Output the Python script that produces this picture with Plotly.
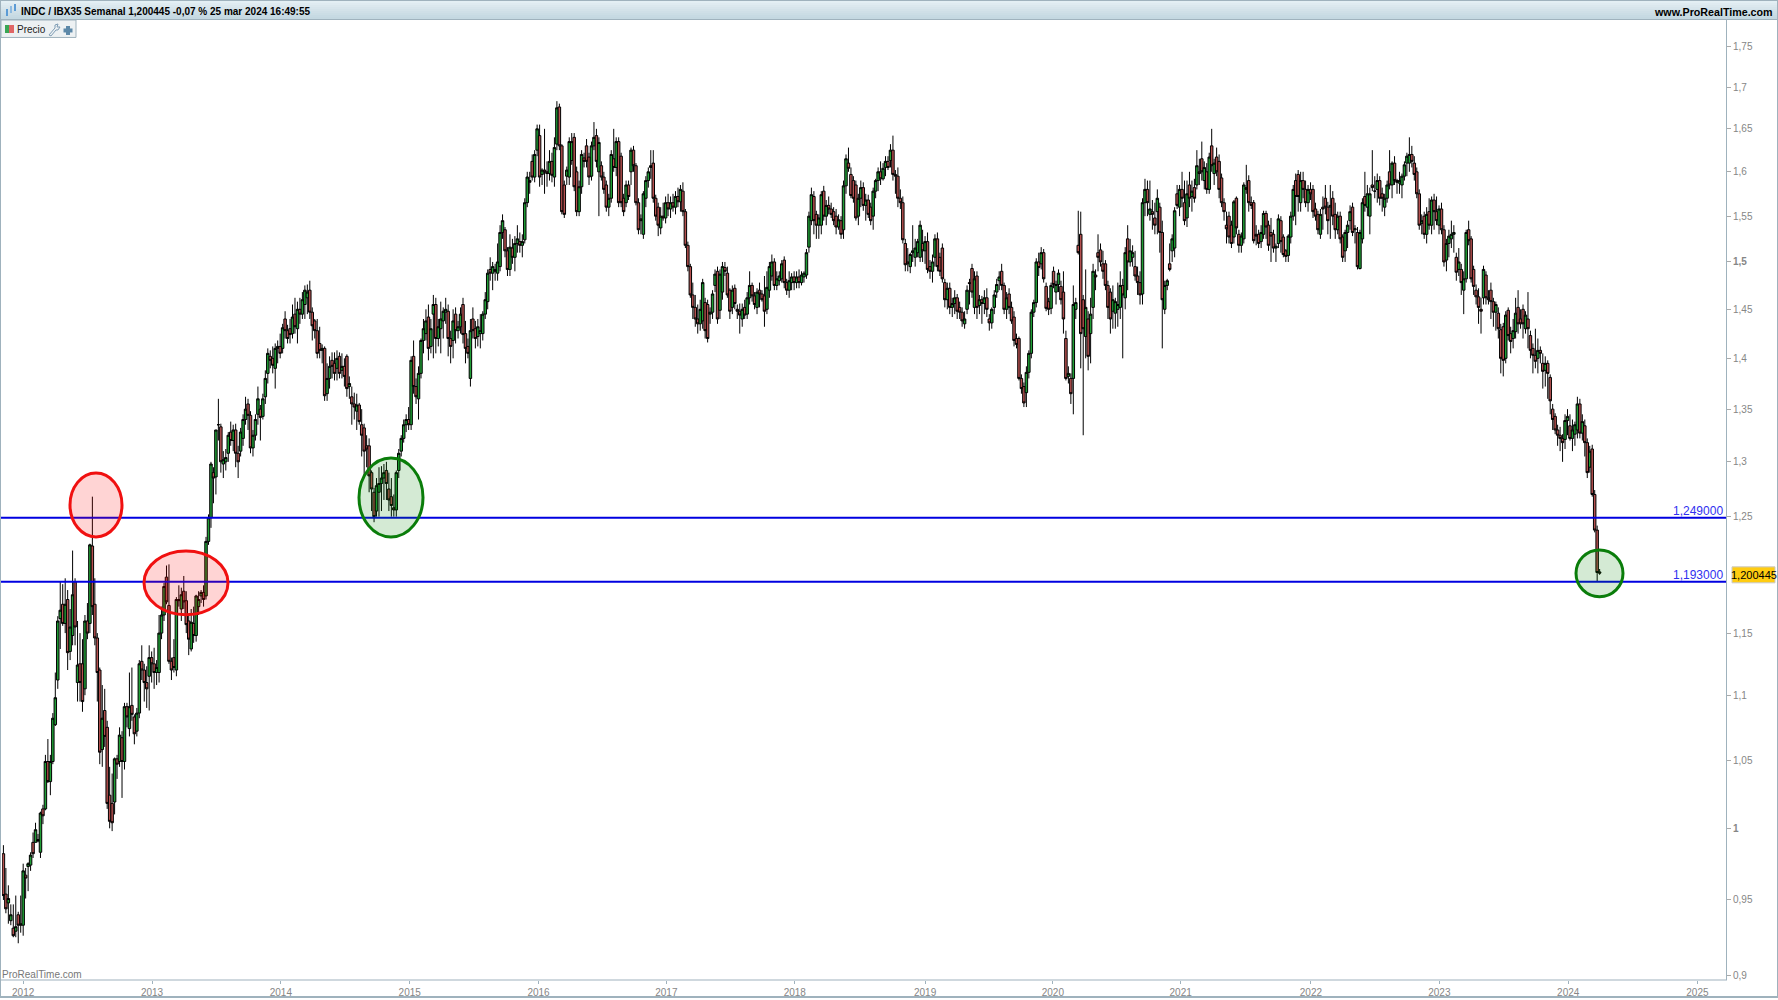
import pandas as pd
import plotly.graph_objects as go

# Weekly bars in thousandths: (open, high, low, close)
bars_2011 = [(982,988,950,953),(954,972,941,944),(948,960,934,951),(936,947,933,940),(931,947,925,926),(929,953,925,932),(940,942,921,933),(934,953,928,933)]
bars_2012 = [
(933,975,926,970),(967,972,951,965),(973,976,956,975),(974,983,970,981),(990,997,979,982),(990,1004,990,999),(992,996,990,991),(983,1012,979,1011),(1014,1017,1003,1009),(1014,1054,1013,1049),
(1049,1066,1033,1034),(1034,1054,1024,1049),(1049,1086,1047,1082),(1077,1118,1076,1098),(1112,1164,1105,1160),(1162,1193,1137,1169),(1174,1191,1156,1158),(1158,1196,1150,1174),(1178,1186,1120,1134),(1135,1170,1128,1155),
(1148,1220,1140,1182),(1193,1196,1140,1155),(1110,1160,1095,1124),(1125,1150,1095,1110),(1125,1145,1087,1095),(1105,1165,1100,1160),(1160,1175,1145,1150),(1158,1226,1150,1225),(1224,1268,1165,1172),(1174,1196,1140,1146),
(1146,1150,1095,1118),(1120,1122,1047,1056),(1058,1108,1045,1082),(1088,1105,1060,1068),(1075,1080,1014,1018),(1024,1045,1000,1005),(1018,1040,998,1004),(1019,1052,1010,1051),(1051,1054,1036,1047),(1049,1075,1045,1069),
(1067,1072,1022,1049),(1049,1094,1043,1091),(1091,1094,1075,1083),(1074,1118,1068,1091),(1092,1122,1080,1085),(1083,1085,1062,1070),(1072,1090,1068,1086),(1086,1128,1082,1125),(1127,1140,1112,1120),(1120,1125,1095,1110),
(1110,1123,1090,1105),(1115,1140,1088,1130),(1130,1135,1110,1125)]
bars_2013 = [
(1125,1138,1105,1118),(1118,1128,1108,1122),(1118,1165,1110,1150),(1150,1172,1145,1165),(1165,1192,1160,1189),(1197,1207,1174,1176),(1173,1208,1125,1127),(1127,1130,1112,1120),(1130,1145,1118,1122),(1120,1180,1115,1178),
(1178,1190,1172,1177),(1170,1188,1160,1182),(1185,1198,1170,1176),(1177,1185,1150,1157),(1160,1165,1132,1145),(1137,1170,1135,1159),(1158,1172,1142,1148),(1148,1182,1143,1181),(1172,1185,1165,1178),(1181,1186,1175,1184),
(1184,1190,1172,1178),(1181,1232,1178,1228),(1228,1252,1225,1249),(1249,1300,1240,1298),(1290,1295,1262,1285),(1286,1330,1270,1330),(1335,1360,1320,1335),(1333,1336,1290,1300),(1298,1310,1285,1302),(1300,1312,1292,1304),
(1308,1328,1300,1325),(1328,1338,1315,1320),(1320,1335,1310,1330),(1330,1336,1295,1308),(1308,1315,1285,1300),(1310,1332,1305,1328),(1322,1345,1315,1340),(1340,1362,1335,1350),(1355,1360,1330,1344),(1344,1348,1308,1313),
(1313,1330,1305,1325),(1325,1345,1320,1340),(1345,1372,1335,1360),(1350,1354,1320,1342),(1343,1365,1340,1360),(1362,1388,1355,1380),(1385,1410,1375,1405),(1402,1408,1390,1398),(1400,1412,1385,1393),(1390,1415,1370,1410),
(1410,1418,1395,1412),(1412,1425,1400,1405)]
bars_2014 = [
(1410,1435,1405,1431),(1440,1448,1420,1428),(1428,1434,1415,1420),(1430,1440,1415,1424),(1425,1455,1420,1442),(1445,1462,1425,1432),(1430,1458,1415,1450),(1450,1462,1435,1445),(1445,1468,1440,1460),(1455,1475,1440,1470),
(1462,1476,1445,1468),(1470,1480,1440,1447),(1447,1452,1418,1433),(1438,1440,1420,1428),(1428,1440,1400,1405),(1415,1432,1400,1408),(1408,1414,1395,1410),(1410,1412,1358,1363),(1365,1395,1358,1380),(1380,1402,1370,1392),
(1398,1406,1380,1392),(1395,1406,1378,1385),(1390,1408,1378,1400),(1402,1406,1380,1385),(1388,1405,1380,1392),(1392,1400,1372,1382),(1402,1404,1362,1370),(1372,1382,1360,1375),(1362,1372,1335,1355),(1355,1366,1340,1352),
(1348,1365,1330,1354),(1354,1356,1335,1338),(1335,1350,1305,1325),(1332,1336,1285,1310),(1315,1325,1295,1312),(1315,1322,1272,1287),(1290,1292,1255,1275),(1272,1276,1245,1250),(1255,1285,1250,1278),(1272,1295,1250,1280),
(1280,1296,1255,1285),(1285,1298,1265,1290),(1292,1300,1265,1280),(1275,1290,1255,1265),(1268,1285,1250,1260),(1258,1270,1250,1256),(1256,1292,1250,1290),(1292,1312,1285,1308),(1310,1325,1305,1322),(1322,1340,1318,1335),
(1335,1345,1328,1340),(1340,1352,1330,1335)]
bars_2015 = [
(1335,1402,1330,1398),(1402,1418,1365,1372),(1372,1380,1355,1362),(1360,1392,1340,1385),(1385,1420,1380,1418),(1418,1440,1405,1430),(1425,1450,1418,1438),(1442,1455,1398,1410),(1412,1440,1405,1430),(1445,1465,1400,1455),
(1455,1462,1405,1420),(1420,1440,1412,1432),(1430,1458,1405,1440),(1438,1452,1420,1448),(1447,1462,1435,1450),(1448,1455,1402,1420),(1420,1428,1395,1412),(1418,1450,1400,1438),(1445,1452,1415,1428),(1428,1438,1420,1432),
(1432,1452,1425,1445),(1455,1462,1415,1424),(1425,1438,1395,1410),(1412,1420,1400,1405),(1380,1440,1372,1428),(1440,1452,1420,1428),(1430,1438,1410,1420),(1422,1440,1412,1432),(1425,1445,1410,1428),(1425,1448,1418,1445),
(1445,1468,1440,1460),(1458,1492,1450,1488),(1492,1505,1480,1488),(1488,1500,1470,1495),(1492,1498,1480,1490),(1488,1520,1480,1500),(1495,1540,1490,1532),(1532,1552,1525,1545),(1535,1538,1505,1512),(1512,1516,1485,1492),
(1492,1530,1485,1516),(1515,1525,1498,1505),(1505,1528,1490,1520),(1520,1540,1510,1525),(1522,1532,1510,1518),(1518,1530,1505,1522),(1524,1570,1520,1565),(1565,1600,1560,1594),(1590,1600,1575,1588),(1612,1620,1590,1594),
(1594,1625,1588,1620),(1625,1655,1618,1650)]
bars_2016 = [
(1642,1655,1583,1594),(1597,1604,1585,1602),(1602,1650,1575,1600),(1600,1612,1583,1598),(1598,1625,1590,1612),(1612,1622,1588,1596),(1594,1640,1583,1628),(1632,1683,1625,1675),(1676,1680,1625,1630),(1630,1632,1552,1555),
(1585,1590,1548,1552),(1595,1606,1585,1602),(1594,1640,1585,1635),(1613,1645,1608,1635),(1640,1645,1578,1583),(1600,1606,1550,1555),(1555,1590,1550,1583),(1583,1625,1575,1620),(1616,1622,1605,1612),(1630,1638,1605,1612),
(1617,1622,1585,1594),(1595,1635,1590,1630),(1630,1658,1625,1640),(1642,1650,1605,1612),(1600,1640,1550,1634),(1607,1612,1590,1594),(1594,1600,1575,1580),(1585,1590,1555,1560),(1560,1575,1550,1570),(1570,1625,1565,1620),
(1615,1650,1600,1605),(1605,1640,1595,1635),(1635,1640,1560,1565),(1618,1622,1560,1565),(1570,1575,1550,1555),(1565,1590,1560,1585),(1585,1590,1568,1572),(1600,1628,1585,1625),(1625,1630,1600,1607),(1607,1610,1562,1565),
(1565,1570,1530,1535),(1547,1552,1530,1545),(1530,1578,1525,1575),(1570,1595,1560,1590),(1590,1605,1582,1600),(1605,1625,1592,1607),(1610,1625,1565,1570),(1570,1574,1545,1550),(1560,1565,1528,1540),(1537,1560,1530,1550),
(1550,1565,1545,1548),(1548,1572,1542,1565)]
bars_2017 = [
(1565,1575,1550,1558),(1558,1572,1548,1565),(1565,1575,1555,1560),(1560,1578,1552,1572),(1572,1582,1560,1566),(1566,1585,1555,1580),(1578,1588,1550,1555),(1555,1558,1515,1518),(1518,1522,1490,1495),(1495,1498,1462,1465),
(1465,1478,1440,1452),(1452,1465,1432,1440),(1440,1455,1425,1435),(1435,1460,1428,1450),(1438,1482,1430,1478),(1457,1462,1420,1428),(1455,1460,1416,1420),(1445,1452,1435,1447),(1447,1470,1440,1466),(1475,1492,1468,1487),
(1490,1495,1435,1440),(1449,1492,1440,1487),(1468,1500,1460,1495),(1494,1500,1485,1490),(1488,1495,1462,1465),(1470,1472,1440,1448),(1452,1475,1445,1470),(1472,1476,1450,1456),(1450,1455,1440,1448),(1448,1456,1425,1444),
(1440,1456,1432,1450),(1452,1460,1440,1444),(1445,1468,1440,1462),(1462,1490,1455,1475),(1475,1478,1458,1464),(1464,1468,1450,1455),(1452,1472,1445,1468),(1470,1478,1452,1466),(1466,1470,1458,1460),(1464,1485,1432,1448),
(1450,1490,1445,1473),(1470,1500,1462,1495),(1485,1508,1480,1500),(1500,1504,1470,1475),(1475,1490,1470,1482),(1480,1490,1475,1485),(1482,1502,1478,1498),(1502,1506,1472,1478),(1478,1482,1465,1470),(1470,1490,1462,1480),
(1478,1488,1470,1484),(1484,1490,1470,1478)]
bars_2018 = [
(1478,1490,1472,1484),(1484,1492,1472,1478),(1478,1490,1475,1486),(1484,1490,1478,1488),(1486,1514,1482,1510),(1516,1555,1510,1550),(1545,1582,1540,1574),(1572,1578,1530,1545),(1552,1556,1525,1540),(1540,1552,1525,1548),
(1540,1578,1530,1574),(1578,1584,1545,1550),(1550,1568,1540,1562),(1562,1572,1552,1558),(1558,1565,1548,1552),(1555,1560,1540,1545),(1550,1558,1530,1538),(1538,1552,1535,1546),(1545,1550,1525,1530),(1535,1590,1525,1584),
(1584,1620,1575,1615),(1610,1628,1600,1604),(1597,1605,1570,1573),(1590,1595,1565,1570),(1585,1590,1545,1548),(1550,1575,1540,1570),(1570,1590,1560,1582),(1582,1588,1556,1562),(1562,1575,1545,1568),(1568,1574,1548,1552),
(1560,1565,1540,1545),(1550,1582,1535,1578),(1578,1592,1570,1590),(1590,1605,1578,1600),(1600,1612,1585,1592),(1592,1610,1590,1604),(1605,1618,1595,1612),(1612,1618,1602,1605),(1613,1632,1605,1625),(1625,1642,1590,1597),
(1597,1602,1575,1595),(1595,1605,1560,1570),(1570,1580,1558,1565),(1565,1572,1520,1524),(1520,1525,1490,1497),(1500,1515,1490,1498),(1495,1510,1488,1508),(1510,1540,1500,1512),(1505,1525,1495,1515),(1510,1525,1505,1522),
(1505,1545,1500,1540),(1520,1535,1500,1512),(1512,1528,1498,1522)]
bars_2019 = [
(1522,1532,1488,1492),(1495,1502,1482,1490),(1490,1508,1478,1500),(1505,1530,1495,1525),(1525,1532,1490,1495),(1505,1510,1485,1490),(1515,1520,1478,1482),(1478,1482,1452,1460),(1460,1478,1450,1472),(1472,1478,1445,1452),
(1452,1462,1442,1456),(1456,1470,1445,1462),(1462,1466,1440,1448),(1452,1458,1440,1447),(1447,1452,1432,1438),(1435,1448,1430,1440),(1450,1475,1445,1470),(1478,1482,1455,1477),(1493,1498,1462,1468),(1452,1490,1445,1482),
(1485,1490,1440,1452),(1454,1465,1445,1460),(1460,1464,1435,1456),(1456,1470,1445,1462),(1462,1472,1442,1450),(1440,1445,1428,1436),(1436,1452,1430,1450),(1452,1470,1445,1465),(1468,1482,1462,1476),(1480,1490,1470,1484),
(1490,1498,1470,1475),(1475,1478,1445,1450),(1450,1468,1440,1462),(1466,1472,1445,1452),(1452,1458,1435,1438),(1442,1448,1412,1418),(1420,1425,1410,1414),(1420,1422,1378,1380),(1380,1384,1365,1370),(1372,1376,1352,1356),
(1366,1392,1352,1386),(1386,1408,1380,1405),(1405,1450,1400,1447),(1447,1460,1442,1457),(1457,1504,1452,1500),(1500,1510,1485,1494),(1498,1516,1492,1510),(1510,1514,1478,1482),(1474,1478,1448,1451),(1458,1462,1444,1450),
(1451,1478,1445,1475),(1490,1495,1472,1476)]
bars_2020 = [
(1468,1480,1455,1476),(1476,1492,1468,1488),(1474,1480,1455,1460),(1468,1490,1425,1440),(1420,1428,1378,1380),(1382,1392,1375,1385),(1380,1385,1355,1365),(1380,1475,1345,1455),(1450,1462,1440,1457),(1518,1556,1508,1510),
(1530,1555,1390,1425),(1460,1465,1325,1430),(1422,1492,1400,1452),(1440,1448,1388,1402),(1425,1462,1395,1445),(1452,1498,1440,1490),(1486,1492,1470,1484),(1510,1530,1490,1505),(1513,1520,1495,1500),(1498,1512,1482,1490),
(1498,1502,1470,1475),(1475,1480,1440,1452),(1468,1472,1425,1440),(1448,1475,1430,1460),(1446,1462,1430,1458),(1450,1478,1432,1455),(1452,1490,1440,1475),(1475,1482,1400,1465),(1462,1516,1450,1510),(1525,1540,1470,1500),
(1500,1525,1495,1512),(1505,1518,1495,1510),(1495,1512,1480,1485),(1485,1495,1465,1478),(1478,1490,1455,1465),(1466,1570,1455,1565),(1565,1592,1550,1580),(1580,1590,1550,1565),(1552,1590,1545,1558),(1555,1568,1535,1552),
(1548,1565,1530,1540),(1555,1580,1530,1570),(1560,1565,1510,1532),(1532,1545,1410,1460),(1450,1480,1445,1475),(1475,1482,1470,1480),(1498,1520,1490,1492),(1512,1530,1500,1525),(1515,1560,1505,1556),(1575,1585,1558,1562),
(1560,1585,1550,1580),(1580,1600,1560,1570)]
bars_2021 = [
(1565,1590,1540,1545),(1548,1590,1538,1575),(1585,1600,1560,1570),(1572,1590,1555,1578),(1582,1592,1565,1570),(1585,1625,1580,1607),(1600,1615,1585,1598),(1615,1635,1590,1600),(1590,1612,1580,1605),(1600,1610,1575,1580),
(1580,1622,1575,1617),(1630,1650,1600,1607),(1598,1615,1585,1610),(1617,1628,1595,1600),(1612,1620,1570,1580),(1593,1598,1560,1565),(1565,1570,1545,1555),(1540,1555,1520,1536),(1550,1555,1520,1527),(1540,1545,1515,1520),
(1527,1568,1520,1566),(1570,1572,1530,1537),(1530,1535,1510,1518),(1518,1532,1510,1528),(1525,1588,1520,1585),(1582,1608,1575,1580),(1590,1596,1555,1565),(1565,1572,1558,1562),(1565,1568,1520,1523),(1530,1540,1518,1528),
(1530,1535,1515,1520),(1522,1540,1515,1532),(1530,1556,1525,1553),(1553,1556,1525,1538),(1540,1545,1512,1518),(1532,1548,1500,1528),(1530,1535,1510,1515),(1515,1520,1500,1517),(1520,1552,1515,1547),(1545,1550,1510,1522),
(1527,1530,1505,1508),(1512,1514,1500,1506),(1507,1530,1500,1528),(1527,1555,1520,1550),(1550,1585,1545,1580),(1590,1598,1540,1572),(1597,1602,1555,1572),(1565,1600,1555,1590),(1590,1600,1570,1580),(1580,1590,1560,1565),
(1565,1585,1555,1580),(1580,1588,1568,1575)]
bars_2022 = [
(1580,1585,1548,1555),(1558,1565,1545,1550),(1552,1556,1530,1535),(1530,1558,1525,1552),(1560,1572,1535,1558),(1570,1585,1552,1560),(1560,1566,1530,1545),(1560,1585,1525,1562),(1570,1578,1540,1550),(1552,1565,1525,1535),
(1535,1555,1530,1550),(1550,1555,1520,1525),(1527,1530,1500,1505),(1512,1535,1500,1532),(1532,1545,1515,1540),(1545,1562,1535,1555),(1560,1565,1528,1532),(1535,1540,1520,1536),(1532,1538,1492,1495),(1493,1535,1492,1532),
(1525,1570,1520,1565),(1572,1600,1555,1562),(1560,1585,1550,1575),(1550,1582,1530,1575),(1585,1625,1578,1582),(1578,1595,1570,1578),(1580,1598,1565,1590),(1590,1595,1562,1570),(1575,1582,1555,1570),(1560,1575,1550,1570),
(1570,1590,1565,1585),(1600,1625,1580,1585),(1585,1612,1570,1610),(1610,1618,1585,1590),(1590,1592,1575,1588),(1587,1600,1575,1590),(1585,1598,1570,1595),(1595,1612,1590,1608),(1610,1622,1595,1618),(1610,1640,1600,1620),
(1620,1630,1605,1612),(1610,1618,1590,1597),(1600,1605,1570,1575),(1575,1580,1535,1540),(1542,1552,1530,1545),(1550,1555,1525,1530),(1530,1560,1520,1552),(1555,1570,1535,1540),(1540,1572,1530,1568),(1568,1575,1535,1555),
(1555,1572,1540,1545),(1540,1562,1530,1558)]
bars_2023 = [
(1558,1565,1530,1535),(1535,1540,1495,1500),(1502,1525,1490,1520),(1520,1535,1505,1528),(1525,1545,1515,1530),(1530,1540,1510,1532),(1505,1510,1480,1489),(1492,1515,1485,1500),(1492,1498,1465,1478),(1470,1490,1445,1482),
(1482,1535,1478,1532),(1535,1545,1518,1523),(1525,1528,1478,1482),(1492,1496,1465,1474),(1470,1476,1455,1463),(1463,1472,1435,1452),(1450,1462,1425,1448),(1462,1496,1455,1492),(1486,1490,1455,1462),(1462,1470,1455,1460),
(1470,1478,1440,1458),(1458,1462,1432,1447),(1447,1458,1428,1455),(1446,1452,1420,1430),(1429,1435,1385,1400),(1432,1436,1382,1398),(1400,1448,1395,1444),(1449,1452,1418,1423),(1425,1432,1405,1417),(1420,1440,1410,1428),
(1427,1462,1420,1446),(1452,1470,1425,1435),(1440,1450,1430,1435),(1450,1455,1420,1435),(1430,1448,1425,1444),(1440,1468,1410,1430),(1423,1428,1400,1408),(1410,1415,1385,1403),(1403,1430,1390,1397),(1400,1420,1385,1408),
(1408,1412,1395,1405),(1395,1405,1370,1387),(1388,1402,1372,1395),(1395,1398,1360,1385),(1381,1384,1345,1358),(1350,1355,1330,1340),(1343,1346,1326,1330),(1330,1335,1315,1325),(1325,1333,1310,1322),(1322,1326,1300,1318),
(1321,1345,1312,1339),(1339,1350,1325,1343)]
bars_2024 = [
(1334,1345,1320,1322),(1322,1340,1310,1330),(1326,1338,1315,1335),(1330,1362,1322,1355),(1355,1360,1322,1327),(1327,1345,1320,1338),(1334,1340,1305,1318),(1318,1322,1285,1290),(1295,1315,1290,1310),(1312,1316,1268,1270),
(1270,1274,1236,1238),(1238,1242,1193,1201),(1201.5,1204,1199,1200.445)]

year_labels = ["2012","2013","2014","2015","2016","2017","2018","2019","2020","2021","2022","2023","2024","2025"]
year_ticks = ["2012-01-02","2013-01-01","2014-01-01","2015-01-01","2016-01-01","2016-12-28","2017-12-27","2018-12-31","2019-12-28","2020-12-24","2021-12-28","2022-12-27","2023-12-27","2024-12-27"]
price_ticks = [0.9,0.95,1,1.05,1.1,1.15,1.25,1.3,1.35,1.4,1.45,1.5,1.55,1.6,1.65,1.7,1.75]
price_labels = ["0,9","0,95","<b>1</b>","1,05","1,1","1,15","1,25","1,3","1,35","1,4","1,45","<b>1,5</b>","1,55","1,6","1,65","1,7","1,75"]
levels = [1.249, 1.193]
level_labels = ["1,249000", "1,193000"]
last_price = "1,200445"
title_text = "INDC / IBX35 Semanal 1,200445 -0,07 % 25 mar 2024 16:49:55"

bars = (bars_2011+bars_2012+bars_2013+bars_2014+bars_2015+bars_2016+bars_2017+bars_2018
        +bars_2019+bars_2020+bars_2021+bars_2022+bars_2023+bars_2024)
opens, highs, lows, closes = [[b[i]/1000 for b in bars] for i in range(4)]
dates = pd.date_range(end="2024-03-25", periods=len(bars), freq="W-MON")

W, H = 1778, 1000
L, R, T, B = 2, 1726, 20, 982
FRAME = "#9fb2bd"
GREY = "#868686"
FONT = "Liberation Sans, Arial, sans-serif"
def px(x): return (x-L)/(R-L)
def py(y): return (B-y)/(B-T)

fig = go.Figure(go.Candlestick(
    x=dates, open=opens, high=highs, low=lows, close=closes,
    increasing=dict(fillcolor="#1f9e35", line=dict(color="#000000", width=1)),
    decreasing=dict(fillcolor="#b5504f", line=dict(color="#000000", width=1)),
    whiskerwidth=0, hoverinfo="skip", showlegend=False))

shapes, notes = [], []
def rect(x0,y0,x1,y1,fill,line=None,lw=1):
    shapes.append(dict(type="rect",xref="paper",yref="paper",x0=px(x0),x1=px(x1),y0=py(y0),y1=py(y1),
                       fillcolor=fill,line=dict(color=line or fill,width=lw if line else 0),layer="above"))
def text(x,y,s,size=11,color="#000",anchor="left",bold=False):
    notes.append(dict(xref="paper",yref="paper",x=px(x),y=py(y),text=f"<b>{s}</b>" if bold else s,showarrow=False,
                      xanchor=anchor,yanchor="middle",font=dict(size=size,color=color,family=FONT),borderpad=0,borderwidth=0))
def oval(x0,y0,x1,y1,fill,line):
    shapes.append(dict(type="circle",xref="paper",yref="paper",x0=px(x0),x1=px(x1),y0=py(y0),y1=py(y1),
                       fillcolor=fill,line=dict(color=line,width=3),layer="above"))

# horizontal levels
for lv in levels:
    shapes.append(dict(type="line",xref="paper",yref="y",x0=px(0),x1=1,y0=lv,y1=lv,
                       line=dict(color="#0000e0",width=2),layer="above"))
text(1723,512,level_labels[0],size=12,color="#3030f0",anchor="right")
text(1723,576,level_labels[1],size=12,color="#3030f0",anchor="right")

# highlight ovals
oval(70,474,122,538,"rgba(255,0,0,0.17)","#f01010")
oval(144,552,228,616,"rgba(255,0,0,0.17)","#f01010")
oval(359,459,423,538,"rgba(0,128,0,0.17)","#0a7d0a")
oval(1576,551,1623,598,"rgba(0,128,0,0.17)","#0a7d0a")

# window frame
header = ["#e3eff4","#dfebf1","#dbe8ee","#d7e5ec","#d3e2e9","#cfdfe7","#cbdde5","#c7dae3","#c4d8e1"]
for i,c in enumerate(header):
    rect(0,1+2*i,W,3+2*i,c)
rect(0,0,W,1,FRAME); rect(0,19,W,20,FRAME)
rect(0,0,1,H,FRAME); rect(W-1,0,W,H,FRAME); rect(0,H-2,W,H,FRAME)
rect(0,981.5,1727,982.5,FRAME); rect(1726,20,1727,982,FRAME)
# header icon
rect(6,9,8,16,"#5b9bd5"); rect(10,6,12,13,"#8fbbe0"); rect(14,4,16,11,"#5b9bd5")
text(21,11.5,title_text,size=10,bold=True)
text(1773,11.5,"www.ProRealTime.com",size=10.7,anchor="right",bold=True)
# legend tab
rect(1,20,76,37.5,"#edf1f3",FRAME)
rect(5,25,9,33,"#3aa655"); rect(9,25,14,33,"#e06666")
text(17,29.5,"Precio",size=10,color="#222")
shapes.append(dict(type="path",xref="paper",yref="paper",layer="above",line=dict(color="#7f9db5",width=1),
    path=f"M {px(49)} {py(35)} L {px(55)} {py(28)} L {px(55)} {py(25)} L {px(58)} {py(24)} L {px(57)} {py(27)} L {px(60)} {py(27)} L {px(58)} {py(30)} L {px(56)} {py(30)} L {px(51)} {py(36)} Z"))
rect(66,26,70,35,"#5c88a8"); rect(63.5,28.5,72.5,32.5,"#5c88a8")
# price flag, watermark
rect(1732,568,1775,584,"#ffcc11","#c9c9c9")
text(1753.5,576,last_price,size=11,anchor="center")
text(2,976.5,"ProRealTime.com",size=10,color="#777777")

fig.update_layout(
    width=W, height=H, margin=dict(l=L,r=W-R,t=T,b=H-B,pad=0), autosize=False,
    paper_bgcolor="#ffffff", plot_bgcolor="#ffffff", showlegend=False, hovermode=False,
    boxgap=0, boxgroupgap=0,
    shapes=shapes, annotations=notes, font=dict(family=FONT,size=10,color=GREY),
    xaxis=dict(type="date",range=["2011-11-03","2025-03-18"],rangeslider=dict(visible=False),showgrid=False,zeroline=False,
               tickmode="array",tickvals=year_ticks,ticktext=year_labels,ticks="outside",ticklen=3,tickcolor=FRAME,
               tickfont=dict(size=10,color=GREY,family=FONT),showline=False),
    yaxis=dict(type="log",range=[-0.04716,0.25132],side="right",showgrid=False,zeroline=False,
               tickmode="array",tickvals=price_ticks,ticktext=price_labels,ticks="outside",ticklen=4,tickcolor="#aaaaaa",
               tickfont=dict(size=10,color=GREY,family=FONT),showline=False),
)
fig.write_html("out.html", config=dict(displayModeBar=False),
    post_script="document.body.style.margin='0';document.documentElement.style.overflow='hidden';")
